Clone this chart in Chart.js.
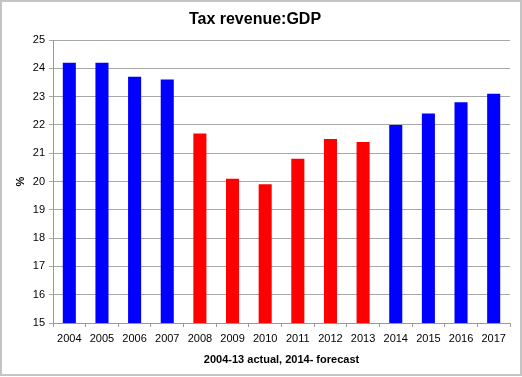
<!DOCTYPE html>
<html>
<head>
<meta charset="utf-8">
<script src="https://cdn.jsdelivr.net/npm/chart.js@4/dist/chart.umd.min.js"></script>
<style>
  html, body { margin: 0; padding: 0; background: #fff; }
  #wrap { width: 522px; height: 377px; position: relative; }
</style>
</head>
<body>
<div id="wrap"><canvas id="c" width="522" height="377"></canvas></div>
<script>
const years = ['2004','2005','2006','2007','2008','2009','2010','2011','2012','2013','2014','2015','2016','2017'];
const taxRevenue = [24.2, 24.2, 23.7, 23.6, 21.7, 20.1, 19.9, 20.8, 21.5, 21.4, 22.0, 22.4, 22.8, 23.1];
const actualYears = ['2008','2009','2010','2011','2012','2013'];
const blue = '#0000ff';
const red = '#ff0000';
const barColors = years.map(y => actualYears.includes(y) ? red : blue);

const borderPlugin = {
  id: 'frame',
  beforeDraw(chart) {
    const ctx = chart.ctx;
    ctx.save();
    ctx.fillStyle = '#ffffff';
    ctx.fillRect(0, 0, chart.width, chart.height);
    ctx.restore();
  },
  afterDraw(chart) {
    const ctx = chart.ctx;
    ctx.save();
    ctx.strokeStyle = '#c4c4c4';
    ctx.lineWidth = 2;
    ctx.strokeRect(1, 1, chart.width - 2, chart.height - 3);
    ctx.restore();
  }
};

new Chart(document.getElementById('c'), {
  type: 'bar',
  data: {
    labels: years,
    datasets: [{
      data: taxRevenue,
      backgroundColor: barColors,
      borderWidth: 0,
      categoryPercentage: 1.0,
      barPercentage: 0.4
    }]
  },
  plugins: [borderPlugin],
  options: {
    responsive: false,
    animation: false,
    devicePixelRatio: 1,
    layout: { padding: { left: 0, right: 12, top: 0, bottom: 0 } },
    plugins: {
      legend: { display: false },
      tooltip: { enabled: false },
      title: {
        display: true,
        text: 'Tax revenue:GDP',
        color: '#000',
        font: { family: 'Liberation Sans, Arial, sans-serif', size: 16, weight: 'bold' },
        padding: { top: 10, bottom: 10.8 }
      }
    },
    scales: {
      x: {
        offset: true,
        grid: {
          offset: true,
          drawOnChartArea: false,
          drawTicks: true,
          tickLength: 4,
          color: '#9a9a9a'
        },
        border: { display: true, color: '#9a9a9a', width: 1 },
        ticks: {
          color: '#000',
          padding: 5,
          maxRotation: 0,
          autoSkip: false,
          font: { family: 'Liberation Sans, Arial, sans-serif', size: 11 }
        },
        title: {
          display: true,
          text: '2004-13 actual, 2014- forecast',
          color: '#000',
          font: { family: 'Liberation Sans, Arial, sans-serif', size: 11, weight: 'bold' },
          padding: { top: 0, bottom: 10.4 }
        },
        afterFit(scale) { scale.height = 54; }
      },
      y: {
        min: 15,
        max: 25,
        ticks: {
          stepSize: 1,
          color: '#000',
          padding: 4,
          font: { family: 'Liberation Sans, Arial, sans-serif', size: 11 }
        },
        grid: {
          color: '#a8a8a8',
          tickLength: 4,
          drawTicks: true
        },
        border: { display: true, color: '#9a9a9a', width: 1 },
        title: {
          display: true,
          text: '%',
          color: '#000',
          font: { family: 'Liberation Sans, Arial, sans-serif', size: 11, weight: 'bold' },
          padding: { top: 14.4, bottom: 0 }
        },
        afterFit(scale) { scale.width = 53; }
      }
    }
  }
});
</script>
</body>
</html>
